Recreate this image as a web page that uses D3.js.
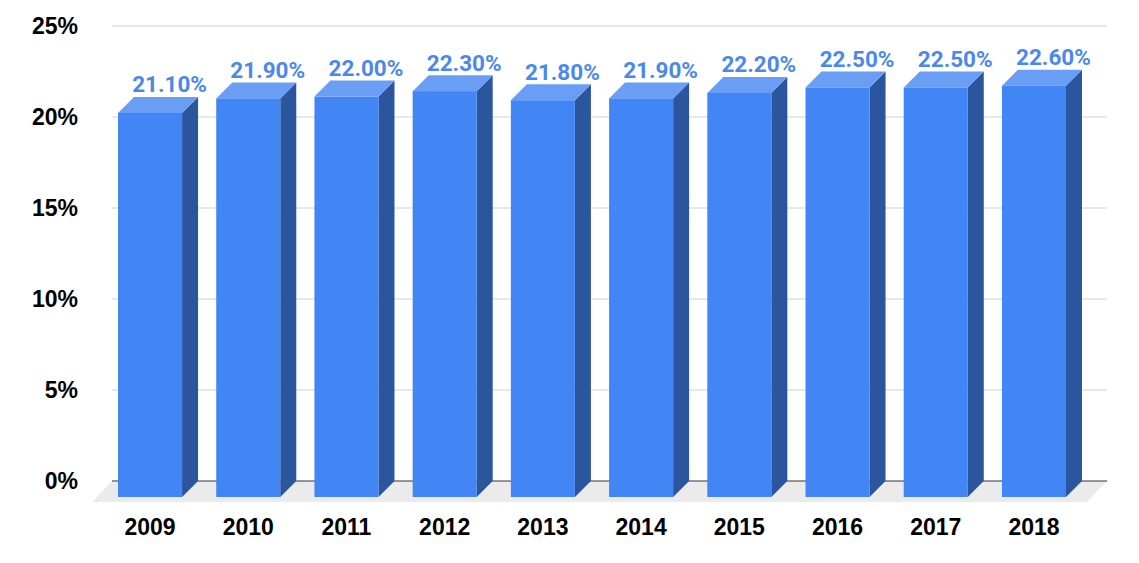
<!DOCTYPE html>
<html><head><meta charset="utf-8">
<script src="https://cdn.jsdelivr.net/npm/d3@7"></script>
<style>
html,body{margin:0;padding:0;background:#fff;}
svg{display:block;}
</style></head>
<body>
<svg id="chart" width="1139" height="563"></svg>
<script>
const years = ["2009","2010","2011","2012","2013","2014","2015","2016","2017","2018"];
const shares = [21.1, 21.9, 22.0, 22.3, 21.8, 21.9, 22.2, 22.5, 22.5, 22.6];
const yTicks = [0, 5, 10, 15, 20, 25];
const valueLabels = ["21.10%","21.90%","22.00%","22.30%","21.80%","21.90%","22.20%","22.50%","22.50%","22.60%"];

const svg = d3.select("#chart");
const depthX = 16, depthY = 16;
const plotLeft = 112, plotRight = 1107;

const y = d3.scaleLinear().domain([0, 25]).range([481, 26]);
const x = d3.scaleBand().domain(years).range([92, 1092]).paddingInner(0.348).paddingOuter(0.265);

// gridlines
svg.append("g").selectAll("line").data(yTicks.filter(t => t > 0)).join("line")
  .attr("x1", plotLeft).attr("x2", plotRight)
  .attr("y1", d => y(d)).attr("y2", d => y(d))
  .attr("stroke", "#d0d0d0").attr("stroke-width", 1);

// floor
const y0 = y(0);
const floorDepth = 20;
svg.append("path")
  .attr("d", `M${plotLeft},${y0} L${plotRight},${y0} L${plotRight - floorDepth},${y0 + floorDepth + 1} L${plotLeft - floorDepth},${y0 + floorDepth + 1} Z`)
  .attr("fill", "#ebebeb");
svg.append("line")
  .attr("x1", plotLeft).attr("x2", plotRight).attr("y1", y0).attr("y2", y0)
  .attr("stroke", "#333").attr("stroke-width", 1);

// y axis
const yAxis = d3.axisLeft(y).tickValues(yTicks).tickSize(0).tickPadding(34).tickFormat(d => d + "%");
const gy = svg.append("g").attr("transform", `translate(${plotLeft},0)`).call(yAxis);
gy.select(".domain").remove();
gy.selectAll("text").attr("font-family", "'Liberation Sans', Arial, sans-serif")
  .attr("font-weight", "bold").attr("font-size", 23).attr("fill", "#000");

// bars
const bars = svg.append("g").selectAll("g").data(years.map((yr, i) => ({yr, v: shares[i], lab: valueLabels[i]}))).join("g");
bars.each(function(d) {
  const g = d3.select(this);
  const fx = x(d.yr), fw = x.bandwidth();
  const backTop = y(d.v);
  const frontTop = backTop + depthY;
  const frontBottom = y0 + depthY;
  g.append("path")
    .attr("d", `M${fx + fw},${frontTop} L${fx + fw + depthX},${backTop} L${fx + fw + depthX},${y0} L${fx + fw},${frontBottom} Z`)
    .attr("fill", "#2b569e");
  g.append("path")
    .attr("d", `M${fx},${frontTop} L${fx + depthX},${backTop} L${fx + fw + depthX},${backTop} L${fx + fw},${frontTop} Z`)
    .attr("fill", "#6a9ef5");
  g.append("rect").attr("x", fx).attr("y", frontTop).attr("width", fw).attr("height", frontBottom - frontTop)
    .attr("fill", "#4285f4");
  g.append("text").attr("x", fx + fw / 2 + 19.5).attr("y", backTop - 4.5)
    .attr("text-anchor", "middle")
    .attr("font-family", "Roboto, 'Noto Sans', sans-serif").attr("font-weight", "bold").attr("font-size", 22.5)
    .attr("fill", "#4a88ec").text(d.lab);
});

// x axis
const xAxis = d3.axisBottom(x).tickSize(0).tickPadding(22);
const gx = svg.append("g").attr("transform", `translate(0,${y0 + depthY})`).call(xAxis);
gx.select(".domain").remove();
gx.selectAll("text").attr("font-family", "'Liberation Sans', Arial, sans-serif")
  .attr("font-weight", "bold").attr("font-size", 23).attr("fill", "#000");
</script>
</body></html>
